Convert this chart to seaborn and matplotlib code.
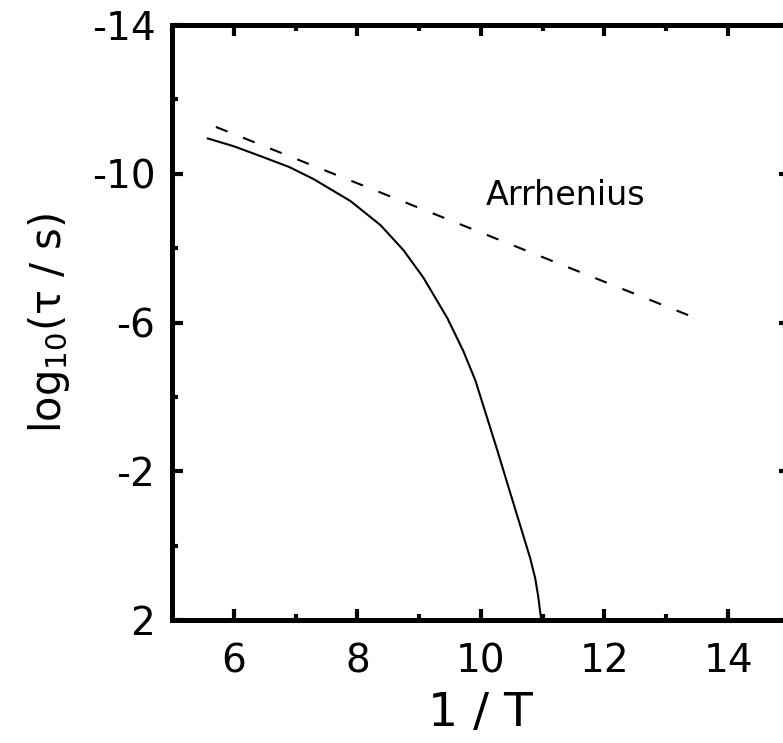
import matplotlib
matplotlib.use("Agg")
import matplotlib.pyplot as plt
import seaborn as sns
import pandas as pd
from matplotlib.ticker import MultipleLocator

# Relaxation time vs inverse temperature
inv_T = [5.575, 6.0, 6.436, 6.9, 7.292, 7.890, 8.375, 8.746, 9.069, 9.457,
         9.716, 9.909, 10.087, 10.265, 10.442, 10.620, 10.798, 10.879,
         10.927, 10.976]
log_tau = [-10.952, -10.74, -10.473, -10.18, -9.857, -9.265, -8.619, -7.947,
           -7.207, -6.117, -5.230, -4.449, -3.508, -2.566, -1.597, -0.629,
           0.340, 0.878, 1.362, 2.0]

# Arrhenius straight-line extrapolation
arr_inv_T = [5.71, 13.58]
arr_log_tau = [-11.26, -6.05]

arr_label = "Arrhenius"
x_ticks = [6, 8, 10, 12, 14]
y_ticks = [-14, -10, -6, -2, 2]

sns.set_theme(style="ticks")
plt.rcParams["font.family"] = ["DejaVu Sans"]
plt.rcParams["text.color"] = "black"
plt.rcParams["axes.labelcolor"] = "black"
plt.rcParams["xtick.color"] = "black"
plt.rcParams["ytick.color"] = "black"

fig = plt.figure(figsize=(7.83, 7.43), dpi=100)
ax = fig.add_axes([0.2197, 0.1655, 0.789, 0.8008])

curve = pd.DataFrame({"inv_T": inv_T, "log_tau": log_tau})
arr = pd.DataFrame({"inv_T": arr_inv_T, "log_tau": arr_log_tau})

sns.lineplot(data=curve, x="inv_T", y="log_tau", ax=ax, color="black",
             linewidth=1.5, sort=False, estimator=None)
sns.lineplot(data=arr, x="inv_T", y="log_tau", ax=ax, color="black",
             linewidth=1.5, sort=False, estimator=None)
ax.lines[0].set_solid_joinstyle("round")
ax.lines[-1].set_dashes((6, 8))

ax.text(10.07, -9.16, arr_label, fontsize=24, ha="left", va="baseline",
        color="black")

ax.set_xlim(5, 15)
ax.set_ylim(2, -14)
ax.set_xticks(x_ticks)
ax.set_yticks(y_ticks)
ax.set_yticklabels([str(v) for v in y_ticks])
ax.xaxis.set_minor_locator(MultipleLocator(1))
ax.yaxis.set_minor_locator(MultipleLocator(2))

for side in ["left", "right", "top", "bottom"]:
    ax.spines[side].set_visible(True)
    ax.spines[side].set_linewidth(3.6)
    ax.spines[side].set_color("black")

ax.tick_params(which="major", direction="in", length=8, width=3,
               top=True, right=True, labelsize=28, color="black",
               labelcolor="black")
ax.tick_params(which="minor", direction="in", length=4, width=3,
               top=True, right=True, color="black")
ax.tick_params(axis="x", which="major", pad=16)
ax.tick_params(axis="y", which="major", pad=12)

ax.set_xlabel("1 / T", fontsize=34, labelpad=8, color="black")
ax.set_ylabel("log$_{10}$(τ / s)", fontsize=30, labelpad=14, color="black")

fig.savefig("out.png", dpi=100)
